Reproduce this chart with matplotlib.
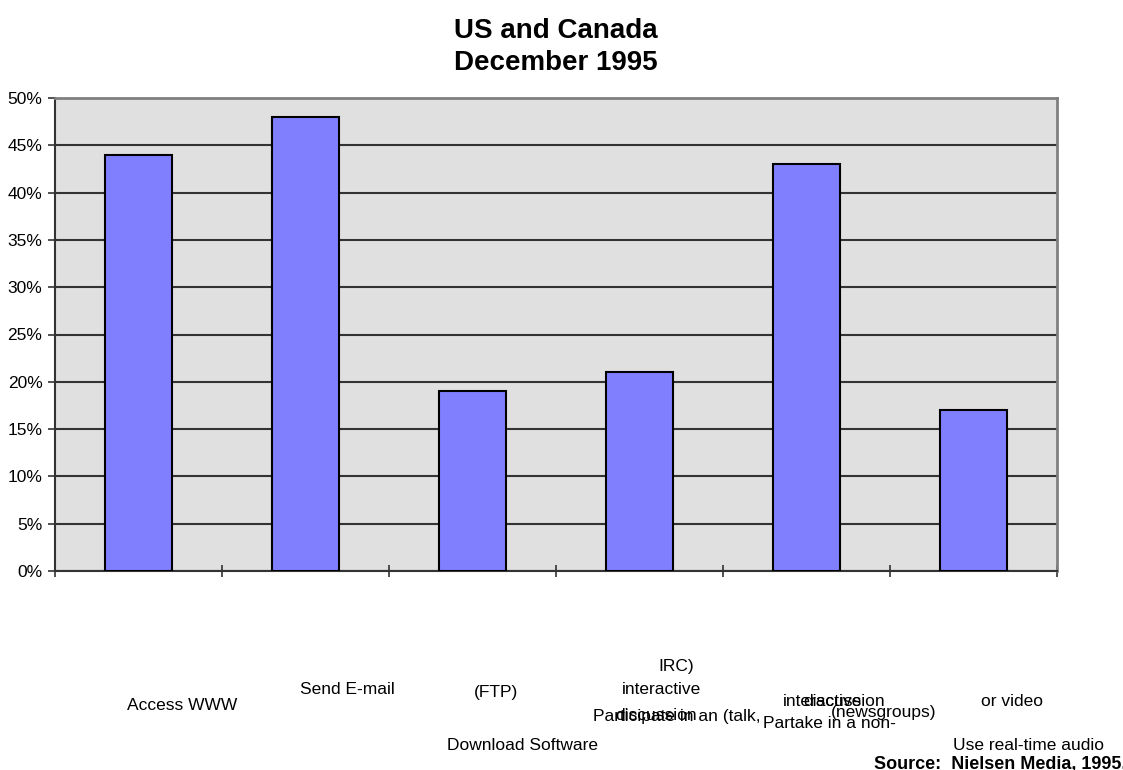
import matplotlib
matplotlib.use("Agg")
import matplotlib.pyplot as plt
from matplotlib.ticker import PercentFormatter

plt.rcParams['font.family'] = ['Liberation Sans', 'DejaVu Sans']

# data
categorias = ["Access WWW", "Send E-mail", "Download Software (FTP)",
              "Participate in an interactive discussion (talk, IRC)",
              "Partake in a non-interactive discussion (newsgroups)",
              "Use real-time audio or video"]
valores = [44, 48, 19, 21, 43, 17]
titulo = "US and Canada\nDecember 1995"
fuente = "Source:  Nielsen Media, 1995."

# pieces of the (badly wrapped) category labels, as they show up
trozos = [
    ["Access WWW"],
    ["Send E-mail"],
    ["(FTP)", "Download Software"],
    ["IRC)", "interactive", "Participate in an (talk,", "discussion"],
    ["interactive", "discussion", "(newsgroups)", "Partake in a non-"],
    ["or video", "Use real-time audio"],
]
# (dx from category, y in px from top, alignment) for each piece
posiciones = [
    [(0.26, 705, 'center')],
    [(0.25, 689, 'center')],
    [(0.14, 693, 'center'), (0.30, 746, 'center')],
    [(0.22, 667, 'center'), (0.13, 690, 'center'), (-0.28, 716, 'left'), (0.10, 716, 'center')],
    [(-0.14, 701, 'left'), (-0.02, 701, 'left'), (0.46, 712, 'center'), (-0.26, 723, 'left')],
    [(0.23, 702, 'center'), (0.33, 746, 'center')],
]

W, H = 1123, 770
fig = plt.figure(figsize=(W / 100, H / 100), dpi=100)
ax = fig.add_axes([55 / W, 1 - 571 / H, (1057 - 55) / W, (571 - 98) / H])

ax.set_facecolor('#e0e0e0')
x = list(range(len(valores)))
ax.bar(x, valores, width=0.4, color='#8080ff', edgecolor='black',
       linewidth=1.5, zorder=3)

ax.set_xlim(-0.5, len(valores) - 0.5)
ax.set_ylim(0, 50)
ax.set_yticks(range(0, 51, 5))
ax.yaxis.set_major_formatter(PercentFormatter(decimals=0))
ax.set_xticks([i - 0.5 for i in range(len(valores) + 1)])
ax.set_xticklabels([])
ax.tick_params(axis='y', direction='out', length=5, width=1.2,
               color='#333333', labelsize=12.5, pad=4)
ax.tick_params(axis='x', direction='inout', length=9, width=1.2,
               color='#333333')
ax.grid(axis='y', color='#333333', linewidth=1.5, zorder=1)
ax.set_axisbelow(True)

for lado in ['left', 'bottom']:
    ax.spines[lado].set_color('#333333')
    ax.spines[lado].set_linewidth(1.5)
for lado in ['top', 'right']:
    ax.spines[lado].set_color('#808080')
    ax.spines[lado].set_linewidth(2)

# category labels
alto_px = 571 - 98
for i, (piezas, pos) in enumerate(zip(trozos, posiciones)):
    for texto, (dx, ypx, ha) in zip(piezas, pos):
        ax.text(i + dx, (571 - ypx) / alto_px, texto, ha=ha, va='center',
                fontsize=12.5, transform=ax.get_xaxis_transform(),
                clip_on=False)

fig.text(556 / W, 1 - 47 / H, titulo, ha='center', va='center',
         fontsize=20, fontweight='bold', linespacing=1.35)
fig.text(1 + 3 / W, 1 - 765 / H, fuente, ha='right', va='center',
         fontsize=13, fontweight='bold')

fig.savefig("out.png", dpi=100)
